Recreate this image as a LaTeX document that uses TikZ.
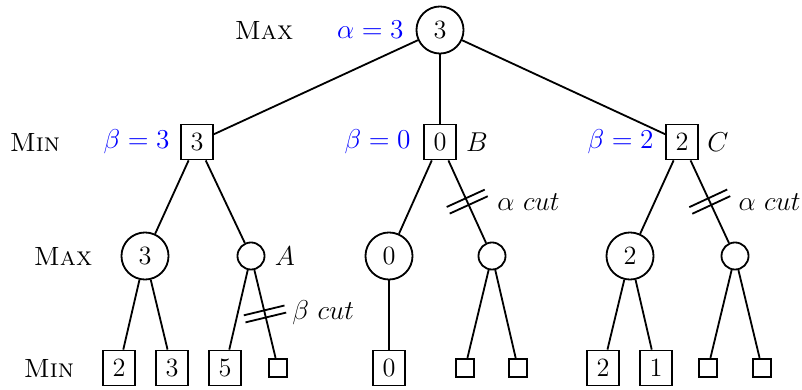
\documentclass[tikz,border=0pt]{standalone}
\usetikzlibrary{decorations.markings}
\begin{document}
\begin{tikzpicture}[x=0.44pt,y=-0.44pt,line width=0.8pt,
  every node/.style={font=\fontsize{11.6}{14}\selectfont},
  maxnode/.style={circle,draw,line width=0.8pt,minimum size=20.7pt,inner sep=0pt},
  maxsmall/.style={circle,draw,line width=0.8pt,minimum size=11.9pt,inner sep=0pt},
  minnode/.style={rectangle,draw,line width=0.8pt,minimum width=14.1pt,minimum height=15.4pt,inner sep=0pt},
  minsmall/.style={rectangle,draw,line width=0.8pt,minimum size=8.1pt,inner sep=0pt},
  lvl/.style={font=\fontsize{11.6}{14}\selectfont\scshape},
  val/.style={text=blue},
  cutedge/.style={postaction={decorate,decoration={markings,mark=at position 0.5 with {\draw[line width=0.8pt] (-1.6pt,-9.2pt)--(-1.6pt,9.2pt) (1.6pt,-9.2pt)--(1.6pt,9.2pt);}}}}
]
\useasboundingbox (0,0) rectangle (802,389);
% level 0
\node[maxnode] (r) at (440,30) {3};
\node[lvl] (lmax0) at (264,30) {Max};
\node[val,anchor=east] (alpha) at (412,30) {$\alpha=3$};
% level 1
\node[minnode] (a) at (197,142) {3};
\node[minnode] (b) at (440,142) {0};
\node[minnode] (c) at (682,142) {2};
\node[lvl] (lmin1) at (35,142) {Min};
\node[val,anchor=east] (betaa) at (178,142) {$\beta=3$};
\node[val,anchor=east] (betab) at (419,142) {$\beta=0$};
\node[val,anchor=east] (betac) at (662,142) {$\beta=2$};
\node (lb) at (477,142) {$B$};
\node (lc) at (718,142) {$C$};
% level 2
\node[maxnode] (a1) at (145,256) {3};
\node[maxsmall] (a2) at (251,256) {};
\node[maxnode] (b1) at (389,256) {0};
\node[maxsmall] (b2) at (492,256) {};
\node[maxnode] (c1) at (630,256) {2};
\node[maxsmall] (c2) at (735,256) {};
\node[lvl] (lmax2) at (63,256) {Max};
\node (la) at (285,256) {$A$};
% level 3
\node[minnode] (a11) at (119,368) {2};
\node[minnode] (a12) at (172,368) {3};
\node[minnode] (a21) at (225,368) {5};
\node[minsmall] (a22) at (278,368) {};
\node[minnode] (b11) at (389,368) {0};
\node[minsmall] (b21) at (465,368) {};
\node[minsmall] (b22) at (518,368) {};
\node[minnode] (c11) at (603,368) {2};
\node[minnode] (c12) at (656,368) {1};
\node[minsmall] (c21) at (708,368) {};
\node[minsmall] (c22) at (762,368) {};
\node[lvl] (lmin3) at (49,368) {Min};
% edges
\draw (r) -- (a);
\draw (r) -- (b);
\draw (r) -- (c);
\draw (a) -- (a1);
\draw (a) -- (a2);
\draw (b) -- (b1);
\draw[cutedge] (b) -- (b2);
\draw (c) -- (c1);
\draw[cutedge] (c) -- (c2);
\draw (a1) -- (a11);
\draw (a1) -- (a12);
\draw (a2) -- (a21);
\draw[cutedge] (a2) -- (a22);
\draw (b1) -- (b11);
\draw (b2) -- (b21);
\draw (b2) -- (b22);
\draw (c1) -- (c11);
\draw (c1) -- (c12);
\draw (c2) -- (c21);
\draw (c2) -- (c22);
% cut labels
\node[anchor=west] (cutb) at (489,202) {$\alpha$ $cut$};
\node[anchor=west] (cutc) at (730,202) {$\alpha$ $cut$};
\node[anchor=west] (cuta) at (284,313) {$\beta$ $cut$};
\end{tikzpicture}
\end{document}
